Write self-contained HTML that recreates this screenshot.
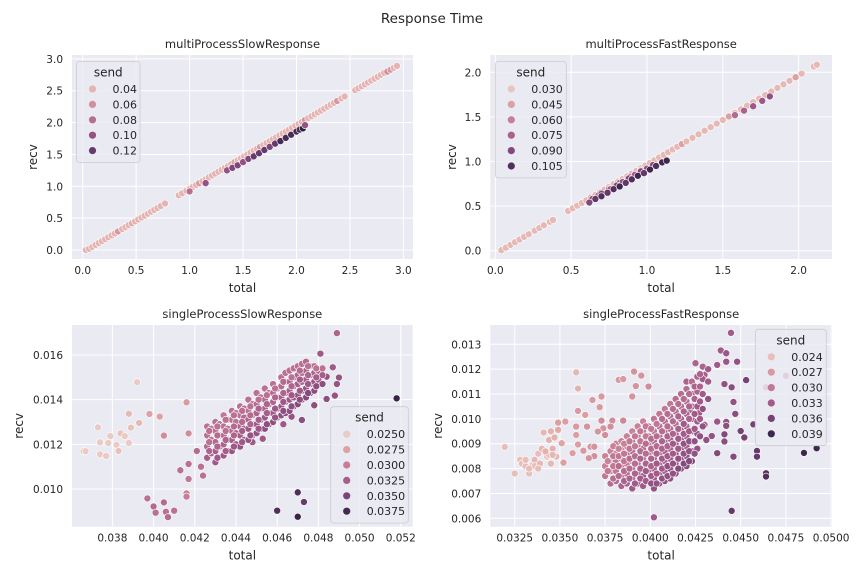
<!DOCTYPE html>
<html><head><meta charset="utf-8">
<style>
html,body{margin:0;padding:0;background:#fff;}
svg{display:block;font-family:"DejaVu Sans","Liberation Sans",sans-serif;}
</style></head>
<body>
<svg id="fig" width="864" height="576" viewBox="0 0 864 576" xmlns="http://www.w3.org/2000/svg">
<text x="432" y="23" text-anchor="middle" font-size="13.5" fill="#262626">Response Time</text>
</svg>
<script>
// ---------- multiProcessSlowResponse ----------
const p1Total = [0.03,0.06,0.09,0.12,0.15,0.18,0.21,0.24,0.27,0.30,0.33,0.37,0.40,0.43,0.46,0.49,0.52,0.55,0.58,0.61,0.64,0.67,0.70,0.73,0.77,
0.90,0.93,0.97,1.00,1.03,1.06,1.09,1.12,1.15,1.18,1.21,1.24,1.27,1.30,1.33,1.36,1.39,1.42,1.45,1.48,1.51,1.54,1.57,1.60,1.63,1.66,1.69,1.72,1.75,1.78,1.81,1.84,1.87,1.90,1.93,1.96,1.99,2.02,2.05,2.08,2.11,2.14,2.17,2.20,2.23,2.26,2.29,2.32,2.35,2.38,2.42,2.45,
2.55,2.58,2.61,2.64,2.67,2.70,2.73,2.76,2.79,2.82,2.85,2.88,2.91,2.94,
1.00,1.15,1.35,1.40,1.45,1.50,1.55,1.60,1.65,1.70,1.75,1.80,1.85,1.90,1.95,2.00,2.03,2.06,2.08];
const p1Recv = [0.00,0.02,0.05,0.08,0.11,0.14,0.17,0.20,0.23,0.26,0.29,0.33,0.36,0.39,0.42,0.45,0.48,0.51,0.54,0.57,0.60,0.63,0.66,0.69,0.73,
0.86,0.89,0.93,0.96,0.99,1.02,1.05,1.08,1.11,1.14,1.17,1.20,1.23,1.26,1.29,1.32,1.35,1.38,1.41,1.44,1.47,1.50,1.53,1.56,1.59,1.62,1.65,1.68,1.71,1.74,1.77,1.80,1.83,1.86,1.89,1.92,1.95,1.98,2.01,2.04,2.07,2.10,2.13,2.16,2.19,2.22,2.25,2.28,2.31,2.34,2.38,2.41,
2.51,2.54,2.57,2.60,2.63,2.66,2.69,2.72,2.75,2.78,2.80,2.83,2.86,2.89,
0.92,1.05,1.25,1.29,1.33,1.38,1.43,1.47,1.52,1.57,1.62,1.67,1.71,1.76,1.81,1.86,1.89,1.91,1.96];
const p1Send = [0.04,0.04,0.04,0.04,0.04,0.04,0.04,0.04,0.04,0.04,0.055,0.04,0.04,0.04,0.045,0.04,0.04,0.04,0.04,0.04,0.04,0.04,0.04,0.04,0.04,
0.04,0.04,0.04,0.04,0.04,0.04,0.055,0.04,0.04,0.04,0.04,0.04,0.04,0.04,0.04,0.04,0.04,0.05,0.04,0.04,0.04,0.04,0.04,0.04,0.04,0.055,0.04,0.04,0.04,0.04,0.04,0.04,0.04,0.04,0.04,0.04,0.04,0.04,0.04,0.06,0.04,0.04,0.04,0.04,0.04,0.04,0.04,0.04,0.04,0.055,0.04,0.04,
0.04,0.04,0.04,0.04,0.04,0.04,0.04,0.04,0.04,0.04,0.06,0.055,0.04,0.04,
0.08,0.10,0.10,0.11,0.11,0.10,0.11,0.12,0.12,0.12,0.11,0.12,0.13,0.13,0.13,0.13,0.13,0.14,0.10];
const p1XTicks = [0.0,0.5,1.0,1.5,2.0,2.5,3.0];
const p1XLabels = ["0.0","0.5","1.0","1.5","2.0","2.5","3.0"];
const p1YTicks = [0.0,0.5,1.0,1.5,2.0,2.5,3.0];
const p1YLabels = ["0.0","0.5","1.0","1.5","2.0","2.5","3.0"];
const p1Legend = [0.04,0.06,0.08,0.10,0.12];
const p1LegendLabels = ["0.04","0.06","0.08","0.10","0.12"];

// ---------- multiProcessFastResponse ----------
const p2Total = [0.04,0.07,0.10,0.13,0.16,0.19,0.22,0.26,0.29,0.32,0.36,0.38,0.48,0.51,0.54,0.57,0.60,0.63,0.66,0.69,0.72,0.75,0.78,0.81,0.84,0.87,0.90,0.93,0.96,0.99,1.02,1.05,1.08,1.11,1.14,1.17,1.20,1.23,1.26,1.30,1.34,1.38,1.42,1.46,1.50,1.54,1.58,1.62,1.66,1.70,1.74,1.78,1.82,1.86,1.90,1.94,1.98,2.02,2.10,2.12,
0.68,0.75,0.82,0.89,0.96,1.58,1.64,1.70,1.76,1.81,
0.64,0.70,0.76,0.80,0.84,0.88,0.92,0.96,1.00,1.04,
0.62,0.66,0.70,0.74,0.78,0.82,0.86,0.90,0.94,0.98,1.02,1.06,1.10,1.13];
const p2Recv = [0.005,0.035,0.065,0.095,0.125,0.155,0.185,0.225,0.255,0.285,0.325,0.345,0.445,0.475,0.505,0.535,0.565,0.595,0.625,0.655,0.685,0.715,0.745,0.775,0.805,0.835,0.865,0.895,0.925,0.955,0.985,1.015,1.045,1.075,1.105,1.135,1.165,1.195,1.225,1.265,1.305,1.345,1.385,1.425,1.465,1.505,1.545,1.585,1.625,1.665,1.705,1.745,1.785,1.825,1.865,1.905,1.945,1.985,2.065,2.085,
0.62,0.69,0.76,0.83,0.90,1.52,1.57,1.62,1.68,1.73,
0.58,0.64,0.69,0.73,0.77,0.81,0.85,0.89,0.92,0.96,
0.54,0.58,0.61,0.65,0.69,0.72,0.76,0.80,0.84,0.87,0.91,0.95,0.99,1.01];
const p2Send = [0.035,0.035,0.035,0.035,0.035,0.035,0.035,0.035,0.035,0.035,0.035,0.035,0.035,0.035,0.035,0.035,0.035,0.04,0.035,0.035,0.035,0.035,0.035,0.035,0.035,0.035,0.035,0.035,0.035,0.035,0.035,0.035,0.035,0.035,0.035,0.035,0.035,0.045,0.035,0.035,0.035,0.035,0.035,0.035,0.035,0.045,0.035,0.035,0.035,0.035,0.035,0.035,0.035,0.035,0.035,0.035,0.045,0.035,0.035,0.035,
0.07,0.07,0.075,0.07,0.075,0.07,0.075,0.08,0.08,0.085,
0.085,0.09,0.08,0.09,0.085,0.09,0.08,0.09,0.085,0.09,
0.09,0.10,0.105,0.10,0.105,0.11,0.10,0.105,0.11,0.10,0.11,0.105,0.11,0.11];
const p2XTicks = [0.0,0.5,1.0,1.5,2.0];
const p2XLabels = ["0.0","0.5","1.0","1.5","2.0"];
const p2YTicks = [0.0,0.5,1.0,1.5,2.0];
const p2YLabels = ["0.0","0.5","1.0","1.5","2.0"];
const p2Legend = [0.030,0.045,0.060,0.075,0.090,0.105];
const p2LegendLabels = ["0.030","0.045","0.060","0.075","0.090","0.105"];

// ---------- singleProcessSlowResponse ----------
const p3OutTotal = [0.0392,0.0373,0.0374,0.0378,0.0379,0.0384,0.0386,0.0388,0.0389,0.0393,0.0388,0.0382,0.0383,0.0374,0.0377,0.0366,0.0367,
0.0398,0.0403,0.0405,0.0416,0.0417,
0.0397,0.0400,0.0401,0.0405,0.0406,0.0407,0.0410,0.0416,0.0416,0.0413,0.0417,0.0417,0.0424,0.0421,0.0423,
0.0489,0.0481,0.0490,0.0489,0.0484,0.0488,0.0478,0.0472,0.0467,0.0463,0.0453,0.0448,0.0487,0.0484,
0.0518,0.0470,0.0473,0.0460,0.0470];
const p3OutRecv = [0.01478,0.01276,0.01209,0.01206,0.01237,0.01249,0.01237,0.01337,0.01275,0.01296,0.01206,0.01198,0.0117,0.01155,0.01148,0.01169,0.01169,
0.01336,0.01324,0.01239,0.01388,0.01249,
0.00958,0.00922,0.00894,0.0094,0.00898,0.00874,0.00903,0.0098,0.00966,0.01084,0.01112,0.01045,0.0106,0.0117,0.0110,
0.01698,0.01606,0.01499,0.0147,0.01403,0.01418,0.01375,0.01309,0.01324,0.0129,0.01225,0.0121,0.01545,0.01503,
0.01406,0.00985,0.00942,0.00903,0.00876];
const p3OutSend = [0.025,0.025,0.025,0.025,0.025,0.0255,0.025,0.026,0.0255,0.026,0.025,0.025,0.0255,0.025,0.025,0.025,0.025,
0.0275,0.0275,0.029,0.028,0.029,
0.031,0.0315,0.031,0.0315,0.031,0.0315,0.031,0.030,0.030,0.031,0.031,0.0305,0.031,0.0315,0.031,
0.032,0.033,0.0335,0.0335,0.034,0.0335,0.034,0.034,0.0335,0.033,0.033,0.033,0.033,0.0335,
0.038,0.037,0.036,0.037,0.038];
const p3RowTotal = [0.0426,0.0428,0.0430,0.0432,0.0434,0.0436,0.0438,0.0440,0.0442,0.0444,0.0446,0.0448,0.0450,0.0452,0.0454,0.0456,0.0458,0.0460,0.0462,0.0464,0.0466,0.0468,0.0470,0.0472,0.0474,0.0476,0.0478,0.0480,0.0482,
0.0427,0.0431,0.0435,0.0439,0.0443,0.0447,0.0451,0.0455,0.0459,0.0463,0.0467,0.0471,0.0475,0.0479];
const p3RowRecv = [[0.0114,0.0119,0.0124,0.0128],[0.0116,0.0122,0.0127],[0.0112,0.0117,0.0121,0.0126,0.0130],[0.0119,0.0124,0.0129],
[0.0115,0.0120,0.0124,0.0128,0.0133],[0.0117,0.0122,0.0127,0.0131],[0.0117,0.0122,0.0126,0.0131,0.0135],[0.0120,0.0125,0.0130,0.0134],
[0.0119,0.0124,0.0128,0.0133,0.0137],[0.0122,0.0127,0.0132,0.0136],[0.0122,0.0127,0.0131,0.0135,0.0140],[0.0124,0.0129,0.0133,0.0138],
[0.0125,0.0129,0.0134,0.0138,0.0143],[0.0127,0.0131,0.0136,0.0141],[0.0127,0.0132,0.0136,0.0140,0.0145],[0.0129,0.0134,0.0138,0.0143],
[0.0130,0.0134,0.0139,0.0143,0.0147],[0.0132,0.0136,0.0141,0.0145],[0.0133,0.0137,0.0141,0.0146,0.0150],[0.0134,0.0139,0.0143,0.0148,0.0152],
[0.0135,0.0140,0.0144,0.0148,0.0153],[0.0137,0.0141,0.0146,0.0150,0.0154],[0.0138,0.0142,0.0147,0.0151,0.0155],[0.0140,0.0144,0.0148,0.0152,0.0156],
[0.0141,0.0145,0.0149,0.0153,0.0157],[0.0143,0.0147,0.0151,0.0155],[0.0144,0.0148,0.0152,0.0155],[0.0149,0.0153],[0.0147,0.0151,0.0154],
[0.0117,0.0121,0.0126],[0.0114,0.0119,0.0124,0.0128],[0.0117,0.0122,0.0126,0.0131],[0.0119,0.0124,0.0128,0.0133],[0.0121,0.0126,0.0130,0.0135],
[0.0124,0.0129,0.0133,0.0137],[0.0127,0.0131,0.0136,0.0140],[0.0129,0.0134,0.0138,0.0142],[0.0132,0.0136,0.0141,0.0145],[0.0135,0.0139,0.0143,0.0148],
[0.0137,0.0142,0.0146,0.0150],[0.0140,0.0144,0.0149,0.0153],[0.0143,0.0147,0.0151,0.0155],[0.0146,0.0150,0.0154]];
const p3RowSend = [[0.0325,0.0315,0.031,0.031],[0.032,0.031,0.0305],[0.033,0.0325,0.0315,0.031,0.031],[0.032,0.0315,0.031],
[0.033,0.032,0.0315,0.031,0.0305],[0.033,0.032,0.031,0.031],[0.0335,0.0325,0.0315,0.031,0.031],[0.033,0.032,0.031,0.0305],
[0.0335,0.0325,0.032,0.031,0.031],[0.033,0.032,0.0315,0.031],[0.0335,0.033,0.032,0.031,0.031],[0.033,0.032,0.0315,0.031],
[0.0335,0.033,0.032,0.0315,0.031],[0.033,0.0325,0.0315,0.031],[0.034,0.033,0.032,0.0315,0.031],[0.033,0.0325,0.032,0.031],
[0.034,0.033,0.032,0.0315,0.031],[0.0335,0.0325,0.032,0.031],[0.034,0.033,0.0325,0.0315,0.031],[0.034,0.033,0.032,0.0315,0.031],
[0.034,0.033,0.0325,0.032,0.031],[0.034,0.033,0.032,0.0315,0.031],[0.0345,0.0335,0.0325,0.032,0.031],[0.034,0.033,0.032,0.0315,0.031],
[0.0345,0.0335,0.0325,0.032,0.0315],[0.034,0.033,0.032,0.0315],[0.034,0.033,0.032,0.031],[0.033,0.032],[0.034,0.0325,0.031],
[0.032,0.031,0.031],[0.033,0.032,0.0315,0.031],[0.0325,0.032,0.031,0.031],[0.033,0.032,0.0315,0.031],[0.033,0.0325,0.0315,0.031],
[0.0335,0.032,0.0315,0.031],[0.033,0.0325,0.032,0.031],[0.034,0.0325,0.032,0.031],[0.0335,0.033,0.032,0.031],[0.034,0.033,0.032,0.0315],
[0.034,0.033,0.032,0.031],[0.034,0.033,0.0325,0.0315],[0.0345,0.033,0.032,0.031],[0.034,0.0325,0.031]];
const p3XTicks = [0.038,0.040,0.042,0.044,0.046,0.048,0.050,0.052];
const p3XLabels = ["0.038","0.040","0.042","0.044","0.046","0.048","0.050","0.052"];
const p3YTicks = [0.010,0.012,0.014,0.016];
const p3YLabels = ["0.010","0.012","0.014","0.016"];
const p3Legend = [0.0250,0.0275,0.0300,0.0325,0.0350,0.0375];
const p3LegendLabels = ["0.0250","0.0275","0.0300","0.0325","0.0350","0.0375"];

// ---------- singleProcessFastResponse ----------
const p4OutTotal = [0.03195,0.0325,0.0333,0.0328,0.0359,0.0360,
0.0329,0.0331,0.0335,0.0336,0.0338,0.0340,0.0341,0.0344,0.0343,0.0345,0.0346,0.0347,0.0348,0.0344,0.0336,0.0339,0.0342,0.0345,0.0349,0.0346,0.0331,0.0338,0.0333,
0.03825,0.0385,0.0391,0.0395,0.0392,0.0399,0.0390,0.0373,0.0368,0.0372,0.0364,0.0360,0.0349,0.0353,0.0373,0.0379,0.0385,0.0378,0.0374,0.0371,0.0375,0.0359,0.0367,0.0369,0.0369,0.0366,0.0363,0.0357,0.0352,0.0351,0.0365,0.0359,0.0360,
0.04446,0.0439,0.0442,0.0448,0.0442,0.0437,0.0425,0.0420,0.0430,0.0441,0.0445,0.0453,0.0446,0.0437,0.0442,0.0442,0.0441,0.0441,0.0434,0.0437,0.0446,0.0450,0.0452,0.0457,0.0459,0.0459,0.0464,0.0464,0.0445,0.0402,0.0485,0.0492,0.0475,0.0464,0.0447,0.0431,0.0430,0.0427,0.0422];
const p4OutRecv = [0.00887,0.0078,0.0078,0.00835,0.01187,0.01122,
0.0082,0.0081,0.00815,0.00835,0.0086,0.0088,0.00945,0.00915,0.00848,0.0082,0.0088,0.00925,0.00848,0.00855,0.0081,0.0082,0.00869,0.0095,0.00956,0.00855,0.00835,0.0080,0.0080,
0.01157,0.0116,0.0119,0.01174,0.01132,0.0113,0.0109,0.0109,0.01076,0.01047,0.01016,0.01032,0.00985,0.00989,0.00993,0.00993,0.00993,0.00969,0.00962,0.00949,0.00935,0.00935,0.00888,0.00888,0.0085,0.00842,0.00872,0.00862,0.00824,0.00902,0.00969,0.00969,0.00897,
0.01346,0.01275,0.01264,0.0123,0.0123,0.01217,0.01224,0.0115,0.01177,0.0114,0.01127,0.01156,0.01068,0.00989,0.00988,0.00972,0.00938,0.00909,0.00931,0.00862,0.00848,0.00951,0.00925,0.00978,0.00871,0.00848,0.00781,0.00768,0.0063,0.00604,0.00863,0.00882,0.01173,0.01127,0.0102,0.00915,0.00976,0.01023,0.01036];
const p4OutSend = [0.024,0.024,0.024,0.024,0.0245,0.025,
0.024,0.024,0.024,0.0245,0.024,0.0245,0.0245,0.025,0.024,0.0245,0.025,0.025,0.0245,0.024,0.024,0.0245,0.025,0.025,0.0255,0.0245,0.024,0.024,0.024,
0.027,0.027,0.0275,0.0275,0.0275,0.028,0.0275,0.027,0.027,0.027,0.0265,0.027,0.0265,0.0265,0.028,0.028,0.0285,0.028,0.0275,0.0275,0.028,0.0265,0.0275,0.0275,0.028,0.0275,0.027,0.0265,0.0265,0.026,0.0275,0.027,0.0265,
0.033,0.033,0.0335,0.034,0.0335,0.033,0.032,0.032,0.0325,0.034,0.0345,0.036,0.034,0.0335,0.034,0.0345,0.035,0.0345,0.034,0.035,0.035,0.036,0.036,0.036,0.037,0.037,0.038,0.038,0.037,0.033,0.039,0.039,0.031,0.030,0.0345,0.034,0.0335,0.033,0.0325];
const p4RowTotal = [0.0375,0.0378,0.0381,0.0384,0.0387,0.0390,0.0393,0.0396,0.0399,0.0402,0.0405,0.0408,0.0411,0.0414,0.0417,0.0420,0.0423,0.0426,0.0429,0.0432,
0.03765,0.03795,0.03825,0.03855,0.03885,0.03915,0.03945,0.03975,0.04005,0.04035,0.04065,0.04095,0.04125,0.04155,0.04185,0.04215,0.04245,0.04275];
const p4RowRecv = [[0.0077,0.0081,0.0085],[0.0074,0.0079,0.0083,0.0087],[0.0075,0.0079,0.0083,0.0086,0.0090],[0.0073,0.0077,0.0081,0.0084,0.0088,0.0091],
[0.0074,0.0078,0.0082,0.0086,0.0089,0.0093],[0.0072,0.0076,0.0080,0.0083,0.0087,0.0091,0.0095],[0.0074,0.0078,0.0082,0.0085,0.0089,0.0093,0.0097],
[0.0073,0.0077,0.0080,0.0084,0.0088,0.0091,0.0095,0.0099],[0.0075,0.0079,0.0082,0.0086,0.0090,0.0093,0.0097],[0.0072,0.0076,0.0080,0.0084,0.0087,0.0091,0.0095,0.0100],
[0.0074,0.0078,0.0082,0.0086,0.0089,0.0093,0.0097,0.0102],[0.0075,0.0079,0.0083,0.0087,0.0091,0.0095,0.0099,0.0104],[0.0076,0.0080,0.0084,0.0088,0.0092,0.0096,0.0101,0.0106],
[0.0078,0.0082,0.0086,0.0090,0.0094,0.0098,0.0103,0.0108],[0.0080,0.0084,0.0088,0.0092,0.0096,0.0100,0.0105,0.0110],[0.0081,0.0085,0.0089,0.0093,0.0097,0.0102,0.0107,0.0112],
[0.0083,0.0087,0.0091,0.0095,0.0100,0.0105,0.0110,0.0115],[0.0088,0.0094,0.0099,0.0105,0.0111,0.0117],[0.0097,0.0104,0.0110,0.0116,0.0121],[0.0108,0.0115,0.0120],
[0.0079,0.0083],[0.0076,0.0081,0.0085,0.0089],[0.0077,0.0081,0.0085,0.0088],[0.0075,0.0079,0.0083,0.0086,0.0090],[0.0076,0.0080,0.0084,0.0088,0.0091],
[0.0074,0.0078,0.0082,0.0085,0.0089,0.0093],[0.0076,0.0080,0.0084,0.0087,0.0091,0.0095],[0.0075,0.0079,0.0082,0.0086,0.0090,0.0093,0.0097],
[0.0074,0.0077,0.0081,0.0084,0.0088,0.0092,0.0096],[0.0074,0.0078,0.0082,0.0086,0.0089,0.0093,0.0098],[0.0076,0.0080,0.0084,0.0088,0.0091,0.0095,0.0100],
[0.0077,0.0081,0.0085,0.0089,0.0093,0.0097,0.0102],[0.0078,0.0082,0.0086,0.0090,0.0094,0.0099,0.0104],[0.0080,0.0084,0.0088,0.0092,0.0096,0.0101,0.0106],
[0.0082,0.0086,0.0090,0.0094,0.0098,0.0103,0.0108],[0.0083,0.0087,0.0091,0.0095,0.0100,0.0105,0.0110],[0.0086,0.0091,0.0096,0.0102,0.0108,0.0113],[0.0093,0.0100,0.0107,0.0113,0.0118]];
const p4RowSend = [[0.030,0.029,0.029],[0.031,0.030,0.029,0.029],[0.031,0.030,0.030,0.029,0.029],[0.032,0.031,0.030,0.030,0.029,0.029],
[0.032,0.031,0.030,0.031,0.030,0.029],[0.033,0.032,0.031,0.030,0.031,0.030,0.029],[0.033,0.032,0.031,0.031,0.030,0.030,0.029],
[0.033,0.033,0.032,0.031,0.031,0.030,0.030,0.029],[0.033,0.032,0.032,0.031,0.030,0.031,0.030],[0.034,0.033,0.032,0.032,0.031,0.031,0.030,0.030],
[0.034,0.033,0.033,0.032,0.031,0.032,0.031,0.030],[0.034,0.033,0.032,0.033,0.032,0.031,0.031,0.030],[0.034,0.034,0.033,0.032,0.032,0.031,0.031,0.030],
[0.034,0.033,0.033,0.032,0.032,0.031,0.031,0.031],[0.034,0.034,0.033,0.033,0.032,0.032,0.031,0.031],[0.035,0.034,0.033,0.033,0.032,0.032,0.031,0.031],
[0.035,0.034,0.034,0.033,0.033,0.032,0.032,0.031],[0.034,0.034,0.033,0.033,0.032,0.032],[0.034,0.034,0.033,0.033,0.032],[0.034,0.033,0.033],
[0.030,0.029],[0.031,0.030,0.030,0.029],[0.031,0.031,0.030,0.029],[0.032,0.031,0.030,0.030,0.029],[0.032,0.031,0.031,0.030,0.030],
[0.033,0.032,0.031,0.031,0.030,0.030],[0.033,0.032,0.032,0.031,0.030,0.030],[0.033,0.033,0.032,0.031,0.031,0.030,0.030],
[0.034,0.033,0.032,0.032,0.031,0.031,0.030],[0.034,0.033,0.033,0.032,0.031,0.031,0.030],[0.034,0.033,0.033,0.032,0.032,0.031,0.031],
[0.034,0.034,0.033,0.032,0.032,0.031,0.031],[0.034,0.034,0.033,0.033,0.032,0.031,0.031],[0.035,0.034,0.033,0.033,0.032,0.032,0.031],
[0.035,0.034,0.034,0.033,0.033,0.032,0.031],[0.035,0.034,0.034,0.033,0.032,0.032,0.031],[0.034,0.034,0.033,0.033,0.032,0.032],[0.034,0.033,0.033,0.032,0.032]];
const p4XTicks = [0.0325,0.0350,0.0375,0.0400,0.0425,0.0450,0.0475,0.0500];
const p4XLabels = ["0.0325","0.0350","0.0375","0.0400","0.0425","0.0450","0.0475","0.0500"];
const p4YTicks = [0.006,0.007,0.008,0.009,0.010,0.011,0.012,0.013];
const p4YLabels = ["0.006","0.007","0.008","0.009","0.010","0.011","0.012","0.013"];
const p4Legend = [0.024,0.027,0.030,0.033,0.036,0.039];
const p4LegendLabels = ["0.024","0.027","0.030","0.033","0.036","0.039"];

// ---------- rendering ----------
const NS = "http://www.w3.org/2000/svg";
const fig = document.getElementById('fig');
const stops = [[237,209,203],[223,165,164],[197,125,150],[161,90,137],[110,62,115],[45,30,62]];
function pal(v, lo, hi){
  let t = Math.max(0, Math.min(1, (v - lo) / (hi - lo))) * (stops.length - 1);
  const i = Math.min(stops.length - 2, Math.floor(t)); const f = t - i;
  const c = stops[i].map((a, k) => Math.round(a + (stops[i+1][k] - a) * f));
  return 'rgb(' + c.join(',') + ')';
}
function mk(tag, attrs, parent){
  const e = document.createElementNS(NS, tag);
  for (const k in attrs) e.setAttribute(k, attrs[k]);
  (parent || fig).appendChild(e); return e;
}
function flatten(outT, outR, outS, rowT, rowR, rowS){
  const T = outT.slice(), R = outR.slice(), S = outS.slice();
  if (rowT) rowT.forEach((t, i) => rowR[i].forEach((r, j) => { T.push(t); R.push(r); S.push(rowS[i][j]); }));
  return [T, R, S];
}
function drawPlot(cfg){
  const g = mk('g', {});
  
  
  const [L, R, Tp, B] = cfg.box;
  const sx = v => L + (v - cfg.xd[0]) / (cfg.xd[1] - cfg.xd[0]) * (R - L);
  const sy = v => B - (v - cfg.yd[0]) / (cfg.yd[1] - cfg.yd[0]) * (B - Tp);
  const bg = mk('rect', {x: L, y: Tp, width: R - L, height: B - Tp, fill: '#eaeaf2'}, g);
  
  
  cfg.xt.forEach((v, i) => {
    const x = sx(v);
    const ln = mk('line', {x1: x, x2: x, y1: Tp, y2: B, stroke: '#fff', 'stroke-width': 1}, g);
    
    
    const tx = mk('text', {x: x, y: B + 15, 'text-anchor': 'middle', 'font-size': 10.5, fill: '#262626'}, g);
    tx.textContent = cfg.xl[i];
    
    
  });
  cfg.yt.forEach((v, i) => {
    const y = sy(v);
    const ln = mk('line', {x1: L, x2: R, y1: y, y2: y, stroke: '#fff', 'stroke-width': 1}, g);
    
    
    const tx = mk('text', {x: L - 9, y: y + 4, 'text-anchor': 'end', 'font-size': 10.5, fill: '#262626'}, g);
    tx.textContent = cfg.yl[i];
    
    
  });
  const title = mk('text', {x: (L + R) / 2, y: Tp - 7, 'text-anchor': 'middle', 'font-size': 11.5, fill: '#262626'}, g);
  title.textContent = cfg.title;
  
  
  const xt = mk('text', {x: (L + R) / 2, y: B + 33, 'text-anchor': 'middle', 'font-size': 12, fill: '#262626'}, g);
  xt.textContent = 'total';
  
  
  const yt = mk('text', {x: 0, y: 0, 'text-anchor': 'middle', 'font-size': 12, fill: '#262626', transform: 'translate(' + cfg.ylx + ',' + ((Tp + B) / 2) + ') rotate(-90)'}, g);
  yt.textContent = 'recv';
  
  
  const pts = mk('g', {}, g);
  
  
  const [T, Rv, S] = cfg.data;
  T.forEach((t, i) => {
    const c = mk('circle', {cx: sx(t), cy: sy(Rv[i]), r: 3.5, fill: pal(S[i], cfg.hd[0], cfg.hd[1]), stroke: '#fff', 'stroke-width': 0.6}, pts);
    
    
  });
  const lg = mk('g', {}, g);
  
  
  const [lx, ly, lw] = cfg.leg;
  const lh = 24 + cfg.lv.length * 15.4;
  mk('rect', {x: lx, y: ly, width: lw, height: lh, rx: 3, fill: '#eaeaf2', 'fill-opacity': 0.8, stroke: '#cccccc', 'stroke-width': 0.8}, lg);
  const lt = mk('text', {x: lx + lw / 2, y: ly + 15, 'text-anchor': 'middle', 'font-size': 12, fill: '#262626'}, lg);
  lt.textContent = 'send';
  
  
  cfg.lv.forEach((v, i) => {
    const y = ly + 27.5 + i * 15.4;
    const c = mk('circle', {cx: lx + 16, cy: y, r: 3.6, fill: pal(v, cfg.hd[0], cfg.hd[1])}, lg);
    
    
    const tx = mk('text', {x: lx + 36, y: y + 4, 'font-size': 11, fill: '#262626'}, lg);
    tx.textContent = cfg.ll[i];
    
    
  });
}
drawPlot({name:'multi-process-slow', title:'multiProcessSlowResponse', box:[72,413,55,259], xd:[-0.100,3.090], yd:[-0.141,3.061],
  xt:p1XTicks, xl:p1XLabels, yt:p1YTicks, yl:p1YLabels, ylx:37, hd:[0.025,0.14], data:[p1Total,p1Recv,p1Send],
  leg:[76.5,61.5,63.5], lv:p1Legend, ll:p1LegendLabels});
drawPlot({name:'multi-process-fast', title:'multiProcessFastResponse', box:[490.3,832,55,259], xd:[-0.033,2.22], yd:[-0.093,2.194],
  xt:p2XTicks, xl:p2XLabels, yt:p2YTicks, yl:p2YLabels, ylx:456, hd:[0.025,0.115], data:[p2Total,p2Recv,p2Send],
  leg:[495.3,61.5,71], lv:p2Legend, ll:p2LegendLabels});
drawPlot({name:'single-process-slow', title:'singleProcessSlowResponse', box:[72,412.7,325,526.7], xd:[0.03604,0.05258], yd:[0.008313,0.017342],
  xt:p3XTicks, xl:p3XLabels, yt:p3YTicks, yl:p3YLabels, ylx:23, hd:[0.0245,0.0385],
  data:flatten(p3OutTotal,p3OutRecv,p3OutSend,p3RowTotal,p3RowRecv,p3RowSend),
  leg:[330.7,406.7,77.6], lv:p3Legend, ll:p3LegendLabels});
drawPlot({name:'single-process-fast', title:'singleProcessFastResponse', box:[490.3,832,325,526.7], xd:[0.03115,0.05005], yd:[0.005662,0.013776],
  xt:p4XTicks, xl:p4XLabels, yt:p4YTicks, yl:p4YLabels, ylx:442, hd:[0.0225,0.040],
  data:flatten(p4OutTotal,p4OutRecv,p4OutSend,p4RowTotal,p4RowRecv,p4RowSend),
  leg:[755.3,329.3,71], lv:p4Legend, ll:p4LegendLabels});
</script>
</body></html>
